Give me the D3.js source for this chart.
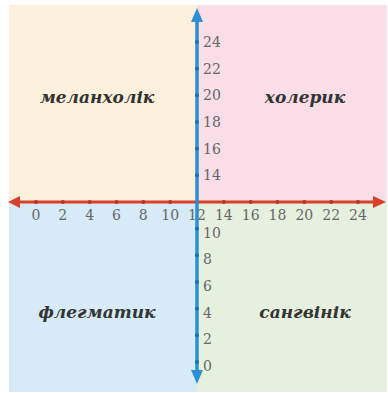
<!DOCTYPE html>
<html>
<head>
<meta charset="utf-8">
<script src="https://cdn.jsdelivr.net/npm/d3@7"></script>
<style>
  body { margin: 0; background: #fff; }
  svg text { font-family: "DejaVu Serif", "Liberation Serif", serif; }
</style>
</head>
<body>
<div id="chart"></div>
<script>
// data
let x_ticks = [0, 2, 4, 6, 8, 10, 12, 14, 16, 18, 20, 22, 24];
let y_ticks_top = [14, 16, 18, 20, 22, 24];
let y_ticks_bottom = [0, 2, 4, 6, 8, 10];
let temperaments = ["меланхолік", "холерик", "флегматик", "сангвінік"];
let quadrant_colors = ["#fdf1de", "#f9dde7", "#d6eaf7", "#e6f0de"];
let quadrant_pos = [[0, 1], [1, 1], [0, 0], [1, 0]]; // [right?, top?]

let width = 388, height = 393;
let svg = d3.select("#chart").append("svg")
    .attr("width", width).attr("height", height);

// scales
let x = d3.scaleLinear().domain([0, 24]).range([36, 358]);
let y = d3.scaleLinear().domain([0, 24]).range([362, 42]);
let x0 = x(12), y0 = y(12);

let p_left = 9, p_right = 387, p_top = 5, p_bottom = 392;

// quadrants
svg.selectAll("rect.quad")
    .data(temperaments)
    .enter().append("rect")
    .attr("class", "quad")
    .attr("x", (d, i) => quadrant_pos[i][0] ? x0 : p_left)
    .attr("y", (d, i) => quadrant_pos[i][1] ? p_top : y0)
    .attr("width", (d, i) => quadrant_pos[i][0] ? p_right - x0 : x0 - p_left)
    .attr("height", (d, i) => quadrant_pos[i][1] ? y0 - p_top : p_bottom - y0)
    .attr("fill", (d, i) => quadrant_colors[i]);

// quadrant labels
svg.selectAll("text.quad")
    .data(temperaments)
    .enter().append("text")
    .attr("class", "quad")
    .attr("x", (d, i) => quadrant_pos[i][0] ? (x0 + p_right) / 2 + 13 : (p_left + x0) / 2 - 6)
    .attr("y", (d, i) => quadrant_pos[i][1] ? 97 : 312)
    .attr("dy", "0.35em")
    .attr("text-anchor", "middle")
    .attr("font-size", 17)
    .attr("font-weight", "bold")
    .attr("font-style", "italic")
    .attr("fill", "#333")
    .text(d => d);

// horizontal axis (red)
let red = "#d8402c", blue = "#2d8fd1";
svg.append("line")
    .attr("x1", 16).attr("x2", 376)
    .attr("y1", y0).attr("y2", y0)
    .attr("stroke", red).attr("stroke-width", 3);
svg.append("path")
    .attr("d", `M8,${y0} L20,${y0 - 6} L20,${y0 + 6} Z`)
    .attr("fill", red);
svg.append("path")
    .attr("d", `M386,${y0} L373,${y0 - 6} L373,${y0 + 6} Z`)
    .attr("fill", red);

svg.selectAll("circle.xt")
    .data(x_ticks)
    .enter().append("circle")
    .attr("class", "xt")
    .attr("cx", d => x(d)).attr("cy", y0).attr("r", 2)
    .attr("fill", "#b8302a");

svg.selectAll("text.xt")
    .data(x_ticks)
    .enter().append("text")
    .attr("class", "xt")
    .attr("x", d => x(d)).attr("y", y0 + 13)
    .attr("dy", "0.35em")
    .attr("text-anchor", "middle")
    .attr("font-family", "'Liberation Serif', serif")
    .attr("font-size", 14)
    .attr("fill", "#666")
    .text(d => d);

// vertical axis (blue)
svg.append("line")
    .attr("x1", x0).attr("x2", x0)
    .attr("y1", 18).attr("y2", 376)
    .attr("stroke", blue).attr("stroke-width", 3.5);
svg.append("path")
    .attr("d", `M${x0},8 L${x0 - 6},22 L${x0 + 6},22 Z`)
    .attr("fill", blue);
svg.append("path")
    .attr("d", `M${x0},384 L${x0 - 6},370 L${x0 + 6},370 Z`)
    .attr("fill", blue);

let y_ticks = y_ticks_bottom.concat(y_ticks_top);
svg.selectAll("circle.yt")
    .data(y_ticks)
    .enter().append("circle")
    .attr("class", "yt")
    .attr("cx", x0).attr("cy", d => y(d)).attr("r", 2)
    .attr("fill", "#1e6fa8");

svg.selectAll("text.yt")
    .data(y_ticks)
    .enter().append("text")
    .attr("class", "yt")
    .attr("x", x0 + 6)
    .attr("y", d => d < 12 ? y(d) + 4 : y(d))
    .attr("dy", "0.35em")
    .attr("font-family", "'Liberation Serif', serif")
    .attr("font-size", 14)
    .attr("fill", "#666")
    .text(d => d);
</script>
</body>
</html>
